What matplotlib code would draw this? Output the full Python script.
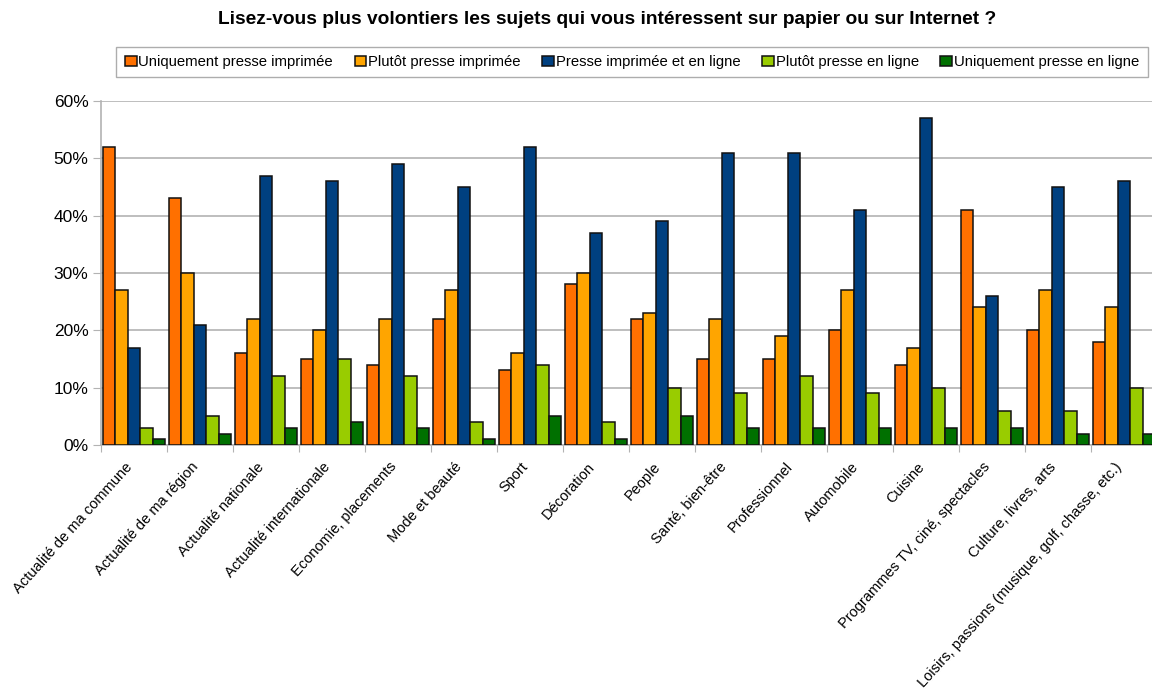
import numpy as np
import matplotlib
matplotlib.use("Agg")
import matplotlib.pyplot as plt
import matplotlib.ticker as ticker

plt.rcParams['font.family'] = ['Liberation Sans', 'DejaVu Sans']

# %%
categories = [
    "Actualité de ma commune",
    "Actualité de ma région",
    "Actualité nationale",
    "Actualité internationale",
    "Economie, placements",
    "Mode et beauté",
    "Sport",
    "Décoration",
    "People",
    "Santé, bien-être",
    "Professionnel",
    "Automobile",
    "Cuisine",
    "Programmes TV, ciné, spectacles",
    "Culture, livres, arts",
    "Loisirs, passions (musique, golf, chasse, etc.)",
]

series_names = [
    "Uniquement presse imprimée",
    "Plutôt presse imprimée",
    "Presse imprimée et en ligne",
    "Plutôt presse en ligne",
    "Uniquement presse en ligne",
]

uniquement_imprimee = [52, 43, 16, 15, 14, 22, 13, 28, 22, 15, 15, 20, 14, 41, 20, 18]
plutot_imprimee = [27, 30, 22, 20, 22, 27, 16, 30, 23, 22, 19, 27, 17, 24, 27, 24]
imprimee_et_ligne = [17, 21, 47, 46, 49, 45, 52, 37, 39, 51, 51, 41, 57, 26, 45, 46]
plutot_ligne = [3, 5, 12, 15, 12, 4, 14, 4, 10, 9, 12, 9, 10, 6, 6, 10]
uniquement_ligne = [1, 2, 3, 4, 3, 1, 5, 1, 5, 3, 3, 3, 3, 3, 2, 2]

colors = ["#ff7000", "#ffa500", "#004080", "#99cc00", "#007000"]

title = "Lisez-vous plus volontiers les sujets qui vous intéressent sur papier ou sur Internet ?"

# %%
fig = plt.figure(figsize=(11.52, 6.95), dpi=100)
W, H = 1152, 695
# the plot area runs a little past the right edge of the figure
ax = fig.add_axes([101 / W, 1 - 445 / H, 1056 / W, 344 / H])

values = [uniquement_imprimee, plutot_imprimee, imprimee_et_ligne, plutot_ligne, uniquement_ligne]
x = np.arange(len(categories))
bar_w = 0.19
for k, (vals, name, color) in enumerate(zip(values, series_names, colors)):
    ax.bar(x + (k - 2) * bar_w, np.array(vals) / 100, width=bar_w, color=color,
           edgecolor="#111111", linewidth=1.1, label=name, zorder=3)

ax.set_xlim(-0.5, len(categories) - 0.5)
ax.set_ylim(0, 0.6)
ax.yaxis.set_major_locator(ticker.MultipleLocator(0.1))
ax.yaxis.set_major_formatter(ticker.FuncFormatter(lambda v, _: f"{v * 100:.0f}%"))
ax.grid(axis="y", color="#b3b3b3", linewidth=1.2, zorder=0)

for side in ("top", "right"):
    ax.spines[side].set_visible(False)
for side in ("left", "bottom"):
    ax.spines[side].set_color("#b3b3b3")
    ax.spines[side].set_linewidth(1.2)

ax.tick_params(axis="y", length=6, color="#b3b3b3", labelsize=12.5, pad=3)
ax.set_xticks(np.arange(len(categories) + 1) - 0.5)
ax.tick_params(axis="x", length=5, color="#b3b3b3", labelbottom=False)

for i, label in enumerate(categories):
    ax.annotate(label, xy=(i, 0), xycoords=("data", "axes fraction"),
                xytext=(-3, -14), textcoords="offset points",
                rotation=48, rotation_mode="anchor", ha="right", va="center",
                fontsize=10.5)

fig.text(607 / W, 1 - 20 / H, title, ha="center", va="center",
         fontsize=13.8, fontweight="bold")

leg = fig.legend(loc="center", bbox_to_anchor=(632 / W, 1 - 62 / H), ncol=5,
                 frameon=True, fancybox=False, edgecolor="#999999",
                 prop={"size": 10.7},
                 handlelength=0.8, handleheight=0.7, handletextpad=0.12,
                 columnspacing=1.45, borderpad=0.55)
leg.get_frame().set_linewidth(1.0)

fig.savefig("out.png", dpi=100)
